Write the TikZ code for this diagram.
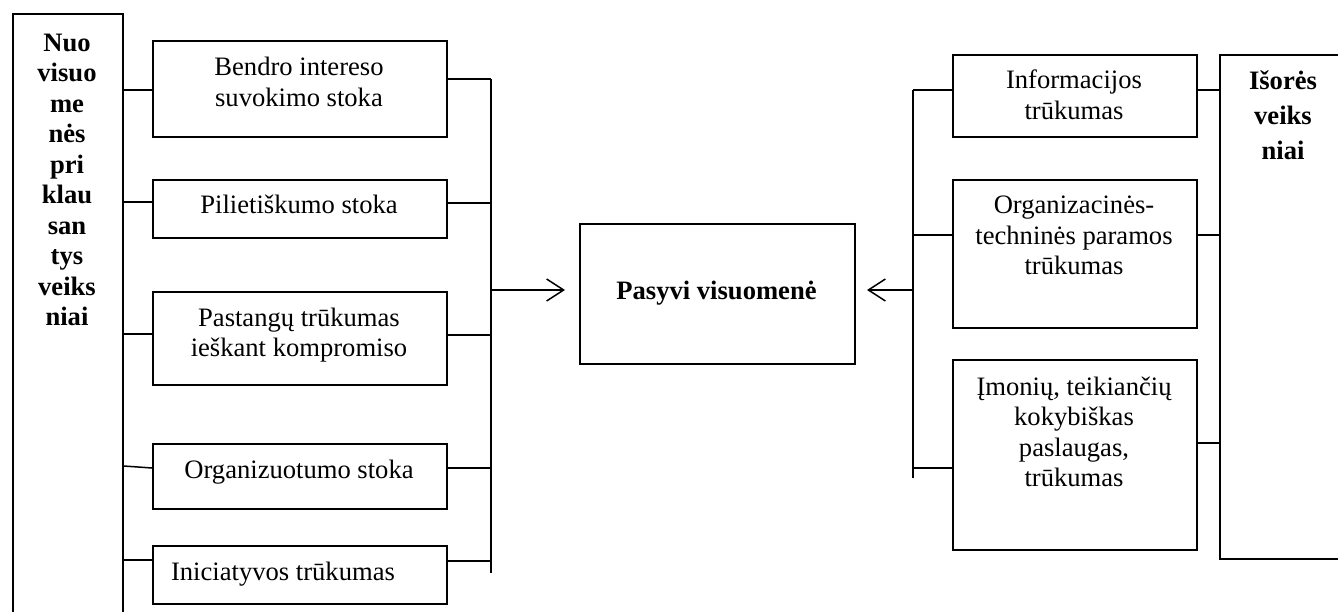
\documentclass[tikz,border=0pt]{standalone}
\usepackage{fontspec}
\setmainfont{Liberation Serif}
\usetikzlibrary{arrows.meta}
\tikzset{
  box/.style={draw, rectangle, line width=1.7pt, inner sep=0pt, anchor=north west},
  % multi-line labels are placed by the baseline of their last line
  lbl/.style={anchor=base, align=center, inner sep=0pt, font=\fontsize{26.6}{30.5}\selectfont},
  lblb/.style={lbl, font=\fontsize{26.6}{30.5}\selectfont\bfseries},
  wire/.style={line width=1.5pt},
  tip/.style={wire, -{Straight Barb[length=17pt,width=22pt,line width=1.5pt]}},
}
\begin{document}
\begin{tikzpicture}[x=1pt,y=-1pt]
\clip (0,0) rectangle (1338,612);
\fill[white] (0,0) rectangle (1338,612);

% group of internal factors (open at the bottom of the page)
\node[box, minimum width=110pt, minimum height=640pt] (L) at (12,13) {};
\node[lblb] (Lt) at (67,325.5) {Nuo\\visuo\\me\\nės\\pri\\klau\\san\\tys\\veiks\\niai};

% internal factors
\node[box, minimum width=294pt, minimum height=96pt] (b1) at (152,40) {};
\node[box, minimum width=294pt, minimum height=58pt] (b2) at (152,179) {};
\node[box, minimum width=294pt, minimum height=93pt] (b3) at (152,291) {};
\node[box, minimum width=294pt, minimum height=65pt] (b4) at (152,443) {};
\node[box, minimum width=294pt, minimum height=58pt] (b5) at (152,545) {};
\node[lbl] (b1t) at (299,106.5) {Bendro intereso\\suvokimo stoka};
\node[lbl] (b2t) at (299,214) {Pilietiškumo stoka};
\node[lbl] (b3t) at (299,356.5) {Pastangų trūkumas\\ieškant kompromiso};
\node[lbl] (b4t) at (299,478) {Organizuotumo stoka};
\node[lbl] (b5t) at (283,580) {Iniciatyvos trūkumas};

% result
\node[box, minimum width=275pt, minimum height=140pt] (P) at (579,223) {};
\node[lblb] (Pt) at (716.5,299) {Pasyvi visuomenė};

% external factors
\node[box, minimum width=244pt, minimum height=82pt] (r1) at (952,54) {};
\node[box, minimum width=244pt, minimum height=148pt] (r2) at (952,179) {};
\node[box, minimum width=244pt, minimum height=190pt] (r3) at (952,359) {};
\node[lbl] (r1t) at (1074,119.5) {Informacijos\\trūkumas};
\node[lbl] (r2t) at (1074,275) {Organizacinės-\\techninės paramos\\trūkumas};
\node[lbl] (r3t) at (1074,486.5) {Įmonių, teikiančių\\kokybiškas\\paslaugas,\\trūkumas};

% group of external factors (open at the right edge)
\node[box, minimum width=150pt, minimum height=504pt] (I) at (1219,54) {};
\node[lblb] (It) at (1283,160) {Išorės\\[4.5pt]veiks\\[4.5pt]niai};

% links from the left group to the internal factors
\coordinate (y1) at (0,90);
\coordinate (y2) at (0,202);
\coordinate (y3) at (0,334);
\coordinate (y4a) at (0,466);
\coordinate (y4b) at (0,468);
\coordinate (y5) at (0,560);
\draw[wire] (L.east |- y1) -- (b1.west |- y1);
\draw[wire] (L.east |- y2) -- (b2.west |- y2);
\draw[wire] (L.east |- y3) -- (b3.west |- y3);
\draw[wire] (L.east |- y4a) -- (b4.west |- y4b);
\draw[wire] (L.east |- y5) -- (b5.west |- y5);

% collecting bus on the left side
\coordinate (m1) at (491,79);
\coordinate (m2) at (491,203);
\coordinate (m3) at (491,335);
\coordinate (m4) at (491,468);
\coordinate (m5) at (491,561);
\coordinate (mEnd) at (491,573);
\coordinate (mA) at (491,290);
\coordinate (Pin) at (565,290);
\draw[wire] (m1) -- (mEnd);
\draw[wire] (b1.east |- m1) -- (m1);
\draw[wire] (b2.east |- m2) -- (m2);
\draw[wire] (b3.east |- m3) -- (m3);
\draw[wire] (b4.east |- m4) -- (m4);
\draw[wire] (b5.east |- m5) -- (m5);
\draw[tip] (mA) -- (Pin);

% collecting bus on the right side
\coordinate (n1) at (913,90);
\coordinate (n2) at (913,235);
\coordinate (n3) at (913,468);
\coordinate (nEnd) at (913,478);
\coordinate (nA) at (913,290);
\coordinate (Qin) at (867,290);
\draw[wire] (n1) -- (nEnd);
\draw[wire] (n1) -- (r1.west |- n1);
\draw[wire] (n2) -- (r2.west |- n2);
\draw[wire] (n3) -- (r3.west |- n3);
\draw[tip] (nA) -- (Qin);

% links from the external factors to their group
\coordinate (k1) at (0,90);
\coordinate (k2) at (0,235);
\coordinate (k3) at (0,443);
\draw[wire] (r1.east |- k1) -- (I.west |- k1);
\draw[wire] (r2.east |- k2) -- (I.west |- k2);
\draw[wire] (r3.east |- k3) -- (I.west |- k3);
\end{tikzpicture}
\end{document}
